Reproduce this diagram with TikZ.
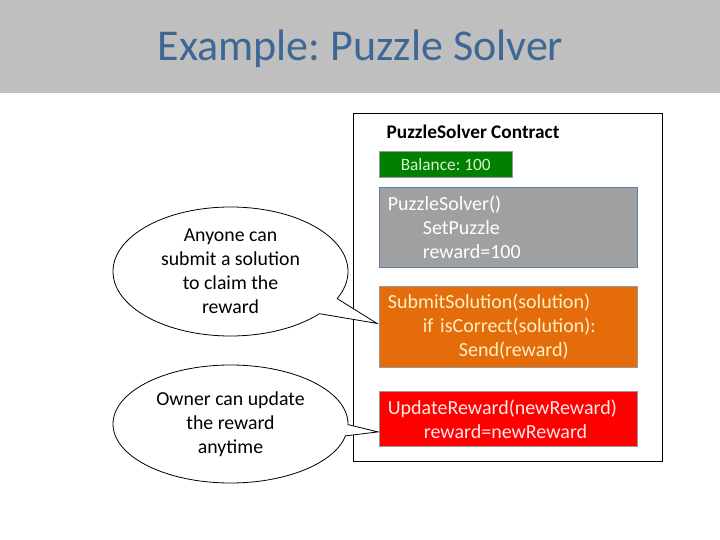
\documentclass[tikz,border=0pt]{standalone}
\usepackage{fontspec}
\setmainfont{Carlito}
\usetikzlibrary{shapes.callouts,calc}
\frenchspacing

\definecolor{headergray}{HTML}{BFBFBF}
\definecolor{titleblue}{HTML}{3F6796}
\definecolor{balancegreen}{HTML}{007F00}
\definecolor{balancetext}{HTML}{D6F5D0}
\definecolor{initgray}{HTML}{A0A0A0}
\definecolor{initborder}{HTML}{5F7FA5}
\definecolor{submitorange}{HTML}{E46C0A}
\definecolor{submittext}{HTML}{FFF0C4}
\definecolor{updatered}{HTML}{FF0000}
\definecolor{updatetext}{HTML}{FFE8E8}

\tikzset{
  codebox/.style={draw=gray!80,line width=0.8pt,rectangle,anchor=north west,
    minimum width=258,inner xsep=8.5pt,inner ysep=0pt,text width=241,
    align=left,font=\fontsize{20}{24}\selectfont},
  bubble/.style={ellipse callout,draw,line width=0.8pt,fill=white,inner sep=0pt,
    minimum width=235,minimum height=129,align=center,
    font=\fontsize{19.8}{24}\selectfont}
}

\newcommand{\ind}[1]{\hspace*{#1pt}}

\begin{document}
\begin{tikzpicture}[x=1pt,y=-1pt]
  \useasboundingbox (0,0) rectangle (720,540);
  \fill[headergray] (0,0) rectangle (720,93);
  \node[anchor=base,text=titleblue,font=\fontsize{44}{50}\selectfont] (title) at (360.5,61) {Example: Puzzle Solver};

  % contract
  \node[draw,line width=0.8pt,anchor=north west,minimum width=309,minimum height=348,inner sep=0pt] (contract) at (353,113) {};
  \node[anchor=base west,inner sep=0pt,font=\bfseries\fontsize{19.3}{22}\selectfont] (ctitle) at (386.5,139) {PuzzleSolver Contract};
  \node[draw=gray!80,fill=balancegreen,text=balancetext,anchor=north west,minimum width=133,minimum height=26,inner sep=0pt,font=\fontsize{17.3}{20}\selectfont] (balance) at (379,151) {Balance: 100};

  \node[codebox,draw=initborder,fill=initgray,text=white,minimum height=80] (init) at (379,187)
    {PuzzleSolver()\\\ind{35}SetPuzzle\\\ind{35}reward=100};
  \node[codebox,fill=submitorange,text=submittext,minimum height=81] (submit) at (379,286)
    {SubmitSolution(solution)\\\ind{35}if isCorrect(solution):\\\ind{71}Send(reward)};
  \node[codebox,fill=updatered,text=updatetext,minimum height=55] (update) at (379,391)
    {UpdateReward(newReward)\\\ind{36}reward=newReward};

  % speech bubbles
  \node[bubble,callout absolute pointer={($(submit.west)+(-2,-3.5)$)},callout pointer arc=16] (claim) at (230.5,271.5)
    {Anyone can\\submit a solution\\to claim the\\reward};
  \node[bubble,minimum height=118,callout absolute pointer={($(update.west)+(-1,13)$)},callout pointer arc=11] (owner) at (230.5,424)
    {Owner can update\\the reward\\anytime};
\end{tikzpicture}
\end{document}
